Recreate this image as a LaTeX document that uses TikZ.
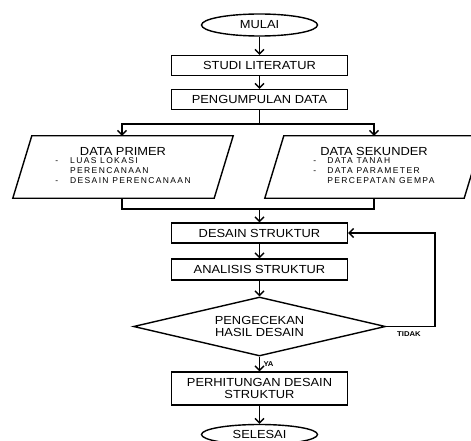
\documentclass[tikz,border=0pt]{standalone}
\usepackage{fontspec}
\setmainfont{Liberation Sans}[FakeStretch=1.1]
\newfontfamily\daftarfont{Liberation Sans}[LetterSpace=16]
\usepackage{array}
\usetikzlibrary{shapes.geometric,arrows.meta}

\newcommand\daftar{\daftarfont\fontsize{8.5}{10}\selectfont}
\newcommand\judul{\normalfont\fontsize{11.7}{12}\selectfont}

\tikzset{
	garis/.style={line width=1.4pt},
	panah/.style={garis,-{Straight Barb[length=4.5pt,width=9pt]}},
	proses/.style={rectangle,draw,garis,minimum width=176,minimum height=20,inner sep=1pt,align=center,font=\judul},
	terminal/.style={ellipse,draw,garis,minimum width=116,minimum height=22,inner sep=0pt,font=\judul},
	keputusan/.style={diamond,draw,garis,aspect=4.3,minimum width=252,minimum height=59,inner sep=0pt,align=center,font=\judul},
	data/.style={rectangle,minimum height=62,inner sep=0pt,font=\daftar},
	ket/.style={font=\bfseries\fontsize{7}{8}\selectfont}
}

\begin{document}
\begin{tikzpicture}[x=1pt,y=-1pt]
	\useasboundingbox (0,0) rectangle (471,441);
	\node [terminal] (1) at (259.5,25) {MULAI};
	\node [proses] (2) at (259.5,65.5) {STUDI LITERATUR};
	\node [proses] (3) at (259.5,99.5) {PENGUMPULAN DATA};
	\node [data,minimum width=201] (4) at (123,167) {\begin{tabular}{@{}l@{\hspace{12pt}}l@{}}
		\multicolumn{2}{@{}c@{}}{\judul DATA PRIMER}\\[-2pt]
		- & LUAS LOKASI\\
		  & PERENCANAAN\\
		- & DESAIN PERENCANAAN
	\end{tabular}};
	\node [data,minimum width=199] (5) at (374,167) {\begin{tabular}{@{}l@{\hspace{11pt}}l@{}}
		\multicolumn{2}{@{}c@{}}{\judul DATA SEKUNDER}\\[-2pt]
		- & DATA TANAH\\
		- & DATA PARAMETER\\
		  & PERCEPATAN GEMPA
	\end{tabular}};
	\node [proses] (6) at (259.5,233) {DESAIN STRUKTUR};
	\node [proses,minimum height=21] (7) at (259.5,269.5) {ANALISIS STRUKTUR};
	\node [keputusan] (8) at (259.5,326.5) {PENGECEKAN\\HASIL DESAIN};
	\node [proses,minimum height=33] (9) at (259.5,388.5) {PERHITUNGAN DESAIN\\STRUKTUR};
	\node [terminal,minimum height=20] (10) at (259.5,434.5) {SELESAI};

	% data primer / sekunder
	\draw [garis] ([xshift=9.5]4.north west) -- ([xshift=9.5]4.north east) -- ([xshift=-9.5]4.south east) -- ([xshift=-9.5]4.south west) -- cycle;
	\draw [garis] ([xshift=9.5]5.north west) -- ([xshift=9.5]5.north east) -- ([xshift=-9.5]5.south east) -- ([xshift=-9.5]5.south west) -- cycle;

	\coordinate (a) at (259.5,124);
	\coordinate (a1) at (122,124);
	\coordinate (a2) at (374,124);
	\coordinate (b) at (259.5,209);
	\coordinate (b1) at (122,209);
	\coordinate (b2) at (374,209);
	\coordinate (c) at (435,326.5);

	\draw [panah] (1) to (2);
	\draw [panah] (2) to (3);
	\draw [garis] (3) to (a);
	\draw [panah] (a) -| (a1 |- 4.north);
	\draw [panah] (a) -| (a2 |- 5.north);
	\draw [garis] (4.south -| b1) |- (b);
	\draw [garis] (5.south -| b2) |- (b);
	\draw [panah] (b) to (6);
	\draw [panah] (6) to (7);
	\draw [panah] (7) to (8);
	\draw [panah] (8) to node [ket,right] {YA} (9);
	\draw [panah] (8.east) -- (c) |- (6.east);
	\node [ket] (tidak) at (409,334) {TIDAK};
	\draw [panah] (9) to (10);
\end{tikzpicture}
\end{document}
